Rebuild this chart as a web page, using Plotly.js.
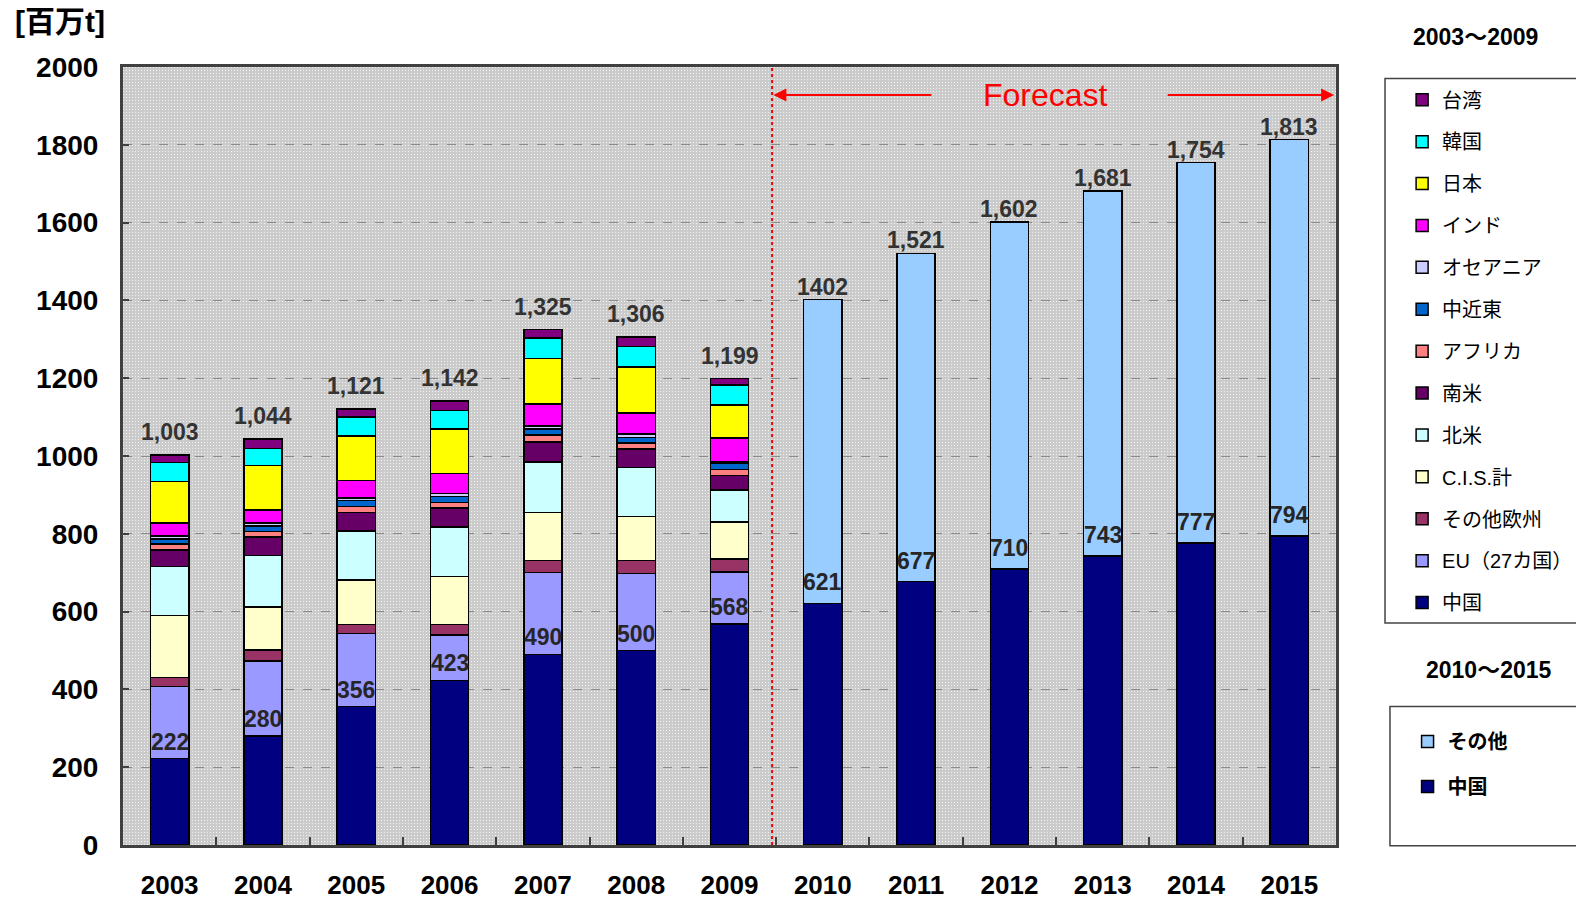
<!DOCTYPE html>
<html>
<head>
<meta charset="utf-8">
<script src="https://cdn.plot.ly/plotly-3.0.1.min.js"></script>
<style>html,body{margin:0;padding:0;background:#fff;}#chart{width:1576px;height:899px;}</style>
</head>
<body>
<div id="chart"></div>
<script>
// ---- data ----
const years = ['2003','2004','2005','2006','2007','2008','2009','2010','2011','2012','2013','2014','2015'];
const histYears = ['2003','2004','2005','2006','2007','2008','2009'];
const fcYears = ['2010','2011','2012','2013','2014','2015'];

const china        = [222, 280, 356, 423, 490, 500, 568];
const eu27         = [185, 193, 188, 117, 210, 198, 134];
const otherEurope  = [23, 28, 23, 27, 31, 33, 33];
const cis          = [160, 111, 114, 123, 124, 113, 95];
const northAmerica = [126, 132, 126, 128, 130, 126, 82];
const southAmerica = [43, 48, 48, 48, 51, 48, 38];
const africa       = [15, 14, 15, 15, 18, 15, 15];
const middleEast   = [13, 14, 15, 15, 16, 15, 17];
const oceania      = [8, 8, 7, 7, 7, 8, 4];
const india        = [33, 33, 45, 52, 57, 55, 60];
const japan        = [106, 115, 114, 115, 117, 118, 85];
const korea        = [49, 43, 49, 47, 52, 52, 51];
const taiwan       = [20, 25, 21, 25, 22, 25, 17];

const fcChina = [621, 677, 710, 743, 777, 794];
const fcOther = [781, 844, 892, 938, 977, 1019];

const totals = [1003, 1044, 1121, 1142, 1325, 1306, 1199, 1402, 1521, 1602, 1681, 1754, 1813];
const totalLabels = ['1,003','1,044','1,121','1,142','1,325','1,306','1,199','1402','1,521','1,602','1,681','1,754','1,813'];
const chinaLabels = ['222','280','356','423','490','500','568','621','677','710','743','777','794'];
const yTicks = [0, 200, 400, 600, 800, 1000, 1200, 1400, 1600, 1800, 2000];

// ---- series definition (bottom to top) ----
const histSeries = [
  {name: '中国', values: china, color: '#000080'},
  {name: 'EU（27カ国）', values: eu27, color: '#9999FF'},
  {name: 'その他欧州', values: otherEurope, color: '#993366'},
  {name: 'C.I.S.計', values: cis, color: '#FFFFCC'},
  {name: '北米', values: northAmerica, color: '#CCFFFF'},
  {name: '南米', values: southAmerica, color: '#660066'},
  {name: 'アフリカ', values: africa, color: '#FF8080'},
  {name: '中近東', values: middleEast, color: '#0066CC'},
  {name: 'オセアニア', values: oceania, color: '#CCCCFF'},
  {name: 'インド', values: india, color: '#FF00FF'},
  {name: '日本', values: japan, color: '#FFFF00'},
  {name: '韓国', values: korea, color: '#00FFFF'},
  {name: '台湾', values: taiwan, color: '#800080'}
];

const FONT = 'Liberation Sans, Arial, Noto Sans CJK JP, sans-serif';
const barLine = {color: '#000', width: 1.5};

const traces = [];
histSeries.forEach((s, i) => {
  traces.push({
    type: 'bar', name: s.name, x: histYears, y: s.values,
    marker: {color: s.color, line: barLine},
    legend: 'legend', legendgroup: 'g' + i, legendrank: 100 - i,
    hoverinfo: 'x+y+name'
  });
});
traces.push({
  type: 'bar', name: '中国', x: fcYears, y: fcChina,
  marker: {color: '#000080', line: barLine},
  legend: 'legend2', legendgroup: 'f0', legendrank: 100
});
traces.push({
  type: 'bar', name: 'その他', x: fcYears, y: fcOther,
  marker: {color: '#99CCFF', line: barLine},
  legend: 'legend2', legendgroup: 'f1', legendrank: 99
});

// ---- annotations (x given as category index) ----
const annotations = [];
years.forEach((yr, i) => {
  annotations.push({
    x: i, y: totals[i], xref: 'x', yref: 'y', text: totalLabels[i],
    showarrow: false, yanchor: 'bottom', yshift: i < 7 ? 8 : -2,
    font: {family: FONT, size: 23, color: '#333', weight: 'bold'}
  });
  const cv = i < 7 ? china[i] : fcChina[i - 7];
  annotations.push({
    x: i, y: cv, xref: 'x', yref: 'y', text: chinaLabels[i],
    showarrow: false, yanchor: 'bottom', yshift: i < 7 ? 2 : 6,
    font: {family: FONT, size: 23, color: '#262626', weight: 'bold'}
  });
});
// Forecast text and arrows
annotations.push({
  x: 9.39, y: 1928, xref: 'x', yref: 'y', text: 'Forecast', showarrow: false,
  font: {family: FONT, size: 32, color: '#FF0000'}
});
annotations.push({
  x: 6.47, y: 1928, ax: 8.18, ay: 1928, xref: 'x', yref: 'y', axref: 'x', ayref: 'y',
  text: '', showarrow: true, arrowhead: 2, arrowsize: 1.3, arrowwidth: 2, arrowcolor: '#FF0000'
});
annotations.push({
  x: 12.48, y: 1928, ax: 10.68, ay: 1928, xref: 'x', yref: 'y', axref: 'x', ayref: 'y',
  text: '', showarrow: true, arrowhead: 2, arrowsize: 1.3, arrowwidth: 2, arrowcolor: '#FF0000'
});
// unit label and legend titles
annotations.push({
  x: -0.0907, y: 1.058, xref: 'paper', yref: 'paper', xanchor: 'left', yanchor: 'middle',
  text: '[百万t]', showarrow: false,
  font: {family: FONT, size: 30, color: '#000', weight: 'bold'}
});
annotations.push({
  x: 1.1154, y: 1.0383, xref: 'paper', yref: 'paper', xanchor: 'center', yanchor: 'middle',
  text: '2003～2009', showarrow: false,
  font: {family: FONT, size: 23, color: '#000', weight: 'bold'}
});
annotations.push({
  x: 1.1261, y: 0.2245, xref: 'paper', yref: 'paper', xanchor: 'center', yanchor: 'middle',
  text: '2010～2015', showarrow: false,
  font: {family: FONT, size: 23, color: '#000', weight: 'bold'}
});

// dotted background pattern
const patternSvg = '<svg xmlns="http://www.w3.org/2000/svg" width="1213" height="778">' +
  '<defs><pattern id="p" width="3" height="3" patternUnits="userSpaceOnUse">' +
  '<rect width="3" height="3" fill="#cbcbcb"/><rect width="1" height="1" fill="#f2f2f2"/></pattern></defs>' +
  '<rect width="1213" height="778" fill="url(#p)"/></svg>';

const layout = {
  width: 1576, height: 899,
  margin: {l: 123, r: 240, t: 67, b: 54, autoexpand: false},
  paper_bgcolor: '#ffffff', plot_bgcolor: '#d4d4d4',
  barmode: 'stack', bargap: 0.59,
  font: {family: FONT, color: '#000'},
  images: [{
    source: 'data:image/svg+xml;charset=utf-8,' + encodeURIComponent(patternSvg),
    xref: 'paper', yref: 'paper', x: 0, y: 1, sizex: 1, sizey: 1,
    sizing: 'stretch', xanchor: 'left', yanchor: 'top', layer: 'below'
  }],
  xaxis: {
    type: 'category', categoryorder: 'array', categoryarray: years,
    range: [-0.5, 12.5], autorange: false,
    showline: true, mirror: true, linecolor: '#404040', linewidth: 3,
    ticks: 'inside', tickson: 'boundaries', ticklen: 8, tickwidth: 2, tickcolor: '#404040',
    tickfont: {family: FONT, size: 26, color: '#000', weight: 'bold'},
    ticklabelstandoff: 15, showgrid: false, zeroline: false, fixedrange: true
  },
  yaxis: {
    range: [0, 2000], autorange: false, tickvals: yTicks, ticktext: yTicks.map(String),
    showline: true, mirror: true, linecolor: '#404040', linewidth: 3,
    ticks: 'inside', ticklen: 6, tickwidth: 2, tickcolor: '#404040',
    tickfont: {family: FONT, size: 28, color: '#000', weight: 'bold'},
    ticklabelstandoff: 16,
    showgrid: true, gridcolor: '#8a8a8a', griddash: 'dash', gridwidth: 1,
    zeroline: false, fixedrange: true
  },
  legend: {
    x: 1.0545, y: 0.983, xanchor: 'left', yanchor: 'top',
    traceorder: 'grouped', tracegroupgap: 12.9,
    bgcolor: 'rgba(0,0,0,0)', borderwidth: 0,
    font: {family: FONT, size: 20, color: '#000'}
  },
  legend2: {
    x: 1.059, y: 0.158, xanchor: 'left', yanchor: 'top',
    traceorder: 'grouped', tracegroupgap: 16,
    bgcolor: 'rgba(0,0,0,0)', borderwidth: 0,
    font: {family: FONT, size: 20, color: '#000', weight: 'bold'}
  },
  shapes: [
    {type: 'line', xref: 'x', yref: 'paper', x0: 6.456, x1: 6.456, y0: 0, y1: 1,
     line: {color: '#FF0000', width: 2, dash: 'dot'}},
    {type: 'rect', xref: 'paper', yref: 'paper', x0: 1.0404, x1: 1.4, y0: 0.2853, y1: 0.9853,
     line: {color: '#444', width: 1.5}, fillcolor: 'rgba(255,255,255,1)', layer: 'below'},
    {type: 'rect', xref: 'paper', yref: 'paper', x0: 1.0445, x1: 1.4, y0: -0.001, y1: 0.178,
     line: {color: '#444', width: 1.5}, fillcolor: 'rgba(255,255,255,1)', layer: 'below'}
  ],
  annotations: annotations,
  showlegend: true
};

Plotly.newPlot('chart', traces, layout, {displayModeBar: false, responsive: false});
</script>
</body>
</html>
